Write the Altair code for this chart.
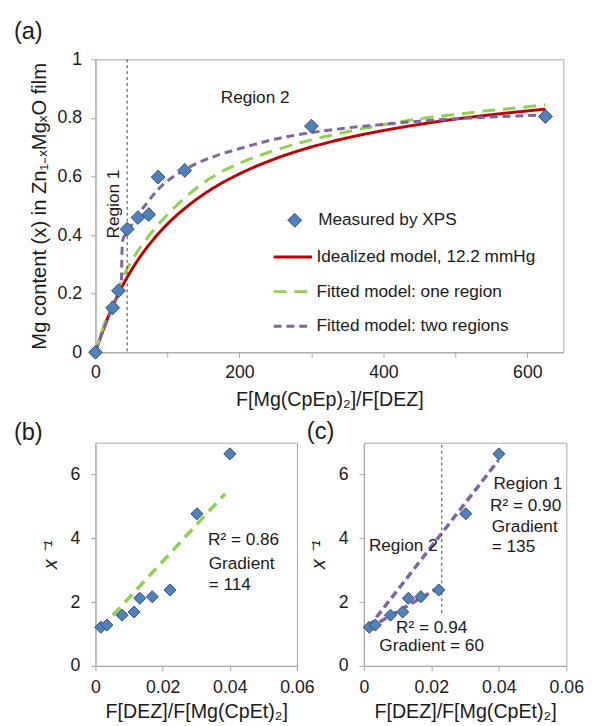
import altair as alt
import pandas as pd

FONT = "Liberation Sans"
GRAY = "#a6a6a6"
TXT = "#1a1a1a"
BLUE = "#4f81bd"
BLUE_EDGE = "#2c4d75"

# ---------------- Panel (a) data ----------------
meas_label = "Measured by XPS"
ratio_meas = [0, 24, 32, 44, 59, 74, 87, 124, 300, 625]
mg_meas = [0, 0.152, 0.21, 0.42, 0.46, 0.47, 0.598, 0.621, 0.772, 0.805]

series_names = ["Idealized model, 12.2 mmHg", "Fitted model: one region", "Fitted model: two regions"]
line_colors = ["#c00000", "#92d050", "#8064a2"]
line_dashes = [[1, 0], [13, 8], [8, 5]]

ideal_r = [0, 10, 20, 30, 45, 60, 80, 100, 130, 160, 200, 250, 300, 350, 400, 450, 500, 550, 600, 625]
ideal_x = [0, 0.072, 0.135, 0.190, 0.260, 0.319, 0.384, 0.438, 0.503, 0.555, 0.609, 0.661, 0.701,
           0.732, 0.757, 0.778, 0.796, 0.811, 0.824, 0.830]

one_r = [0, 10, 20, 30, 45, 60, 80, 100, 130, 160, 200, 250, 300, 350, 400, 450, 500, 550, 600, 625]
one_x = [0, 0.08, 0.15, 0.21, 0.29, 0.35, 0.415, 0.47, 0.54, 0.595, 0.645, 0.69, 0.725, 0.753,
         0.777, 0.797, 0.812, 0.826, 0.838, 0.845]

two_r = [0, 10, 20, 30, 34, 36, 36.5, 37, 38, 41, 44, 58, 70, 87, 124, 175, 200, 250, 300, 350,
         400, 450, 500, 550, 600, 625]
two_x = [0, 0.07, 0.13, 0.19, 0.22, 0.245, 0.30, 0.355, 0.383, 0.40, 0.41, 0.466, 0.505, 0.556,
         0.623, 0.677, 0.695, 0.728, 0.75, 0.766, 0.778, 0.789, 0.797, 0.803, 0.808, 0.81]

region_line_a = [44]
a_text_left = ["Region 2"]
a_text_left_r = [174]
a_text_left_x = [0.869]
a_text_rot = ["Region 1"]
a_text_rot_r = [26]
a_text_rot_x = [0.506]

a_xticks = [0, 50, 100, 150, 200, 250, 300, 350, 400, 450, 500, 550, 600, 650]
a_yticks = [0, 0.1, 0.2, 0.3, 0.4, 0.5, 0.6, 0.7, 0.8, 0.9, 1]

# ---------------- Panels (b), (c) data ----------------
inv_ratio = [0.0016, 0.0034, 0.0079, 0.0115, 0.0132, 0.0169, 0.0222, 0.0302, 0.040]
inv_x = [1.21, 1.28, 1.59, 1.69, 2.12, 2.17, 2.38, 4.77, 6.65]

fit_b_u = [0.0016, 0.0386]
fit_b_v = [1.18, 5.40]

seg_names = ["Region 1", "Region 1", "Region 2", "Region 2"]
seg_u = [0.0015, 0.0399, 0.0015, 0.0231]
seg_v = [1.22, 6.45, 1.18, 2.51]

vline_c_u = [0.0231]
vline_c_v = [1.66]
vline_c_v2 = [7]

b_text = ["R² = 0.86", "Gradient", "= 114"]
b_text_u = [0.0335, 0.0337, 0.0337]
b_text_v = [3.95, 3.18, 2.54]

c_text_left = ["Region 1", "R² = 0.90", "Gradient", "= 135", "Region 2"]
c_text_left_u = [0.0384, 0.0374, 0.0379, 0.0379, 0.0015]
c_text_left_v = [5.71, 5.02, 4.36, 3.72, 3.76]
c_text_mid = ["R² = 0.94", "Gradient = 60"]
c_text_mid_u = [0.0201, 0.0201]
c_text_mid_v = [1.20, 0.615]

bc_xticks = [0, 0.01, 0.02, 0.03, 0.04, 0.05, 0.06]
bc_yticks = [0, 1, 2, 3, 4, 5, 6, 7]

ANN = 17.5

# ---------------- Panel (a) ----------------
meas_df = pd.DataFrame({"r": ratio_meas, "x": mg_meas, "series": meas_label})
curve_df = pd.concat([
    pd.DataFrame({"r": ideal_r, "x": ideal_x, "series": series_names[0]}),
    pd.DataFrame({"r": one_r, "x": one_x, "series": series_names[1]}),
    pd.DataFrame({"r": two_r, "x": two_x, "series": series_names[2]}),
], ignore_index=True)

xa = alt.X("r:Q", scale=alt.Scale(domain=[0, 650], nice=False, zero=True),
           axis=alt.Axis(values=a_xticks, format="d",
                         labelExpr="datum.value % 200 === 0 ? datum.label : ''",
                         title="F[Mg(CpEp)₂]/F[DEZ]", labelPadding=7, titlePadding=8))
ya = alt.Y("x:Q", scale=alt.Scale(domain=[0, 1], nice=False, zero=True),
           axis=alt.Axis(values=a_yticks, format="~g",
                         labelExpr="round(datum.value * 10) % 2 === 0 ? datum.label : ''",
                         title="Mg content (x) in Zn₁₋ₓMgₓO film", titleFontSize=20.5,
                         labelPadding=9, titlePadding=8))

line_legend = alt.Legend(title=None, orient="none", legendX=179.8, legendY=180,
                         symbolType="stroke", symbolSize=1521, symbolStrokeWidth=3,
                         labelFontSize=ANN, labelOffset=3, rowPadding=5.3, padding=0,
                         labelColor=TXT, labelFont=FONT, labelLimit=400)

lines_a = alt.Chart(curve_df).mark_line(strokeWidth=3, interpolate="monotone").encode(
    x=xa, y=ya,
    color=alt.Color("series:N", scale=alt.Scale(domain=series_names, range=line_colors),
                    legend=line_legend),
    strokeDash=alt.StrokeDash("series:N", scale=alt.Scale(domain=series_names, range=line_dashes),
                              legend=line_legend),
)

rule_a = alt.Chart(pd.DataFrame({"r": region_line_a})).mark_rule(
    color="#404040", strokeDash=[3, 3], strokeWidth=1).encode(x="r:Q")

txt_a1 = alt.Chart(pd.DataFrame({"r": a_text_left_r, "x": a_text_left_x, "t": a_text_left})).mark_text(
    align="left", baseline="middle", fontSize=ANN, font=FONT, color=TXT).encode(
    x="r:Q", y="x:Q", text="t:N")
txt_a2 = alt.Chart(pd.DataFrame({"r": a_text_rot_r, "x": a_text_rot_x, "t": a_text_rot})).mark_text(
    align="center", baseline="middle", angle=270, fontSize=ANN, font=FONT, color=TXT).encode(
    x="r:Q", y="x:Q", text="t:N")

pts_a = alt.Chart(meas_df).mark_point(shape="diamond", filled=True, size=196, stroke=BLUE_EDGE,
                                      strokeWidth=1, opacity=1).encode(
    x="r:Q", y="x:Q",
    fill=alt.Fill("series:N", scale=alt.Scale(domain=[meas_label], range=[BLUE]),
                  legend=alt.Legend(title=None, orient="none", legendX=194, legendY=155,
                                    symbolType="diamond", symbolSize=196, labelFontSize=ANN,
                                    labelOffset=15, padding=0, symbolStrokeColor=BLUE_EDGE,
                                    symbolStrokeWidth=1, labelColor=TXT, labelFont=FONT)),
)

def panel_title(text, dx, offset):
    return alt.TitleParams(text, anchor="start", frame="group", dx=dx, offset=offset, fontSize=24,
                           baseline="alphabetic", font=FONT, fontWeight="normal", color=TXT)

panel_a = alt.layer(lines_a, rule_a, txt_a1, txt_a2, pts_a).properties(
    width=476, height=298, title=panel_title("(a)", -83, -12))

# ---------------- Panel (b) ----------------
def xbc():
    return alt.X("u:Q", scale=alt.Scale(domain=[0, 0.06], nice=False, zero=True),
                 axis=alt.Axis(values=bc_xticks, format="~g",
                               labelExpr="round(datum.value * 100) % 2 === 0 ? datum.label : ''",
                               title="F[DEZ]/F[Mg(CpEt)₂]", labelPadding=8, titlePadding=6))

def ybc():
    return alt.Y("v:Q", scale=alt.Scale(domain=[0, 7], nice=False, zero=True),
                 axis=alt.Axis(values=bc_yticks, format="d",
                               labelExpr="datum.value % 2 === 0 ? datum.label : ''",
                               title="x ⁻¹", titleFontStyle="italic", labelPadding=11,
                               titlePadding=10))

pts_df = pd.DataFrame({"u": inv_ratio, "v": inv_x})

fit_b = alt.Chart(pd.DataFrame({"u": fit_b_u, "v": fit_b_v})).mark_line(
    color="#92d050", strokeWidth=3.5, strokeDash=[11, 7]).encode(x=xbc(), y=ybc())
pts_b = alt.Chart(pts_df).mark_point(shape="diamond", filled=True, size=150, fill=BLUE,
                                     stroke=BLUE_EDGE, strokeWidth=1, opacity=1).encode(
    x="u:Q", y="v:Q")
txt_b = alt.Chart(pd.DataFrame({"u": b_text_u, "v": b_text_v, "t": b_text})).mark_text(
    align="left", baseline="middle", fontSize=ANN, font=FONT, color=TXT).encode(
    x="u:Q", y="v:Q", text="t:N")

panel_b = alt.layer(fit_b, txt_b, pts_b).properties(
    width=205, height=227, title=panel_title("(b)", -83, -21))

# ---------------- Panel (c) ----------------
fit_c = alt.Chart(pd.DataFrame({"u": seg_u, "v": seg_v, "seg": seg_names})).mark_line(
    color="#8064a2", strokeWidth=3.5, strokeDash=[8, 4.5]).encode(x=xbc(), y=ybc(), detail="seg:N")
vline_c = alt.Chart(pd.DataFrame({"u": vline_c_u, "v": vline_c_v, "v2": vline_c_v2})).mark_rule(
    color="#404040", strokeDash=[3, 3], strokeWidth=1).encode(x="u:Q", y="v:Q", y2="v2:Q")
pts_c = alt.Chart(pts_df).mark_point(shape="diamond", filled=True, size=150, fill=BLUE,
                                     stroke=BLUE_EDGE, strokeWidth=1, opacity=1).encode(
    x="u:Q", y="v:Q")
txt_c1 = alt.Chart(pd.DataFrame({"u": c_text_left_u, "v": c_text_left_v, "t": c_text_left})).mark_text(
    align="left", baseline="middle", fontSize=ANN, font=FONT, color=TXT).encode(
    x="u:Q", y="v:Q", text="t:N")
txt_c2 = alt.Chart(pd.DataFrame({"u": c_text_mid_u, "v": c_text_mid_v, "t": c_text_mid})).mark_text(
    align="center", baseline="middle", fontSize=ANN, font=FONT, color=TXT).encode(
    x="u:Q", y="v:Q", text="t:N")

panel_c = alt.layer(fit_c, vline_c, txt_c1, txt_c2, pts_c).properties(
    width=206, height=227, title=panel_title("(c)", -58, -21))

chart = alt.vconcat(
    panel_a,
    alt.hconcat(panel_b, panel_c, spacing=68, bounds="flush"),
    spacing=92, bounds="flush",
).properties(
    padding={"left": 5, "top": 5, "right": 0, "bottom": 0}
).configure(
    font=FONT
).configure_axis(
    labelFont=FONT, titleFont=FONT, labelFontSize=18, titleFontSize=20,
    labelColor=TXT, titleColor=TXT, domainColor=GRAY, tickColor=GRAY, tickSize=5,
    grid=False, titleFontWeight="normal", labelFlush=False, labelOverlap=False,
).configure_view(
    stroke=GRAY
).configure_legend(
    labelFont=FONT, labelColor=TXT
)

chart.save("out.html", embed_options={"renderer": "svg", "actions": False})
